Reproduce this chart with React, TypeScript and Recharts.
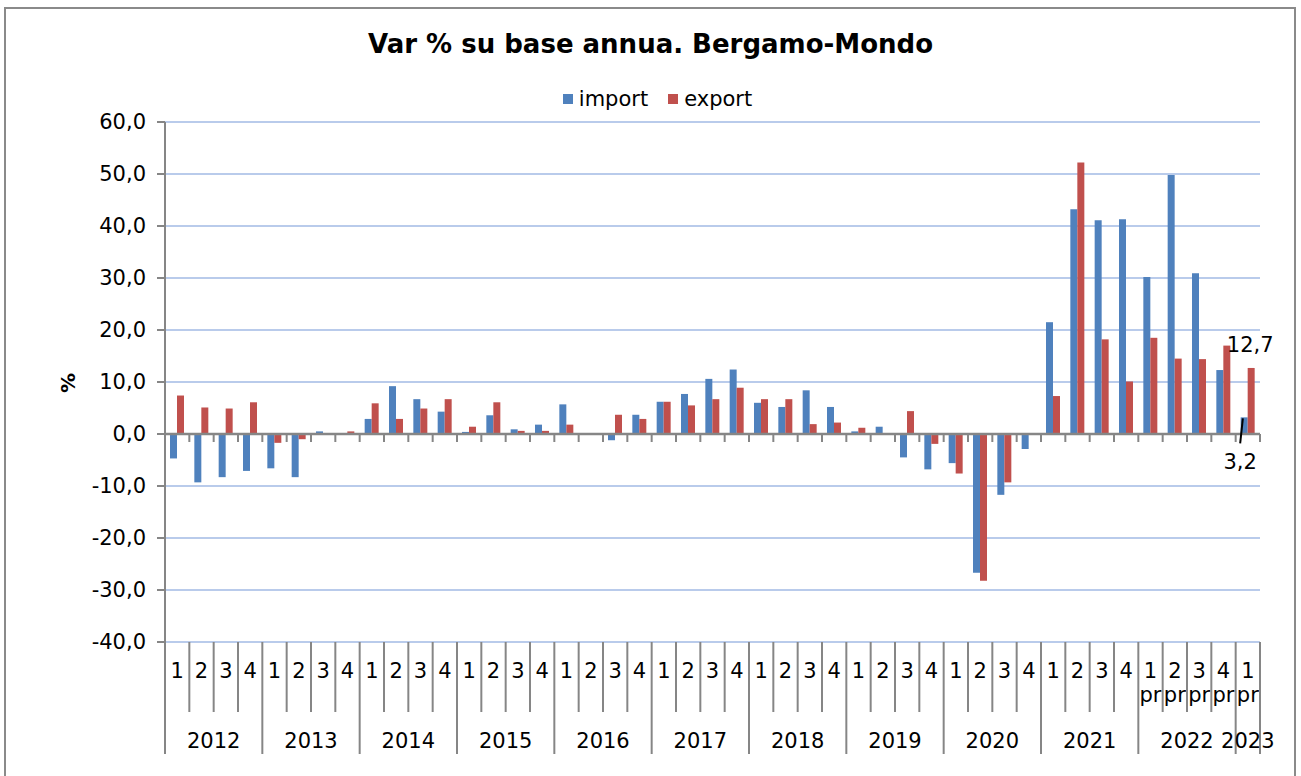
import React from 'react';
import { BarChart, Bar, XAxis, YAxis, CartesianGrid, Legend, ReferenceLine, LabelList } from 'recharts';

const FONT = "'DejaVu Sans', Verdana, sans-serif";

const years = ['2012', '2013', '2014', '2015', '2016', '2017', '2018', '2019', '2020', '2021', '2022', '2023'];
const quartersPerYear = [4, 4, 4, 4, 4, 4, 4, 4, 4, 4, 4, 1];
const provisionalYears = ['2022', '2023'];
const seriesOrder = ['import', 'export'];

const importValues = [
  -4.7, -9.3, -8.3, -7.1,
  -6.6, -8.3, 0.5, 0.0,
  2.9, 9.2, 6.7, 4.3,
  0.4, 3.6, 0.9, 1.8,
  5.7, 0.0, -1.2, 3.7,
  6.2, 7.7, 10.6, 12.4,
  6.0, 5.2, 8.4, 5.2,
  0.5, 1.4, -4.5, -6.8,
  -5.6, -26.7, -11.7, -2.9,
  21.5, 43.2, 41.1, 41.3,
  30.2, 49.8, 30.9, 12.3,
  3.2,
];

const exportValues = [
  7.4, 5.1, 4.9, 6.1,
  -1.7, -1.0, 0.0, 0.5,
  5.9, 2.9, 4.9, 6.7,
  1.4, 6.1, 0.6, 0.6,
  1.8, 0.0, 3.7, 2.9,
  6.2, 5.5, 6.7, 8.9,
  6.7, 6.7, 1.9, 2.2,
  1.2, 0.0, 4.4, -1.9,
  -7.6, -28.2, -9.3, 0.0,
  7.3, 52.2, 18.2, 10.1,
  18.5, 14.5, 14.4, 17.0,
  12.7,
];

const yTicks = [-40, -30, -20, -10, 0, 10, 20, 30, 40, 50, 60];

// build the category table
const data: any[] = [];
years.forEach((yr, yi) => {
  for (let q = 1; q <= quartersPerYear[yi]; q++) {
    const i = data.length;
    data.push({
      key: `${yr}-${q}`,
      year: yr,
      quarter: String(q),
      pr: provisionalYears.includes(yr),
      firstOfYear: q === 1,
      lastOfYear: q === quartersPerYear[yi],
      yearCount: quartersPerYear[yi],
      import: importValues[i],
      export: exportValues[i],
    });
  }
});
const N = data.length;
// only the latest quarter carries data labels
data[N - 1].importLabel = importValues[N - 1];
data[N - 1].exportLabel = exportValues[N - 1];

const W = 1301;
const H = 776;
const M = { top: 122, right: 41, left: 0, bottom: 0 };
const Y_AXIS_W = 165;
const X_AXIS_H = 134;
const PLOT_W = W - M.left - M.right - Y_AXIS_W;

const AXIS_COLOR = '#868686';
const GRID_COLOR = '#b9cbeb';
const BLUE = '#4f81bd';
const RED = '#c0504d';

const fmt = (v: number) => Number(v).toFixed(1).replace('.', ',');

const XTick = (props: any) => {
  const { x, y, payload } = props;
  const i = payload?.index ?? props.index;
  const d = data[i];
  if (!d) return null;
  const half = typeof payload?.offset === 'number' && payload.offset > 3 ? payload.offset : PLOT_W / N / 2;
  const longLen = 112;
  const shortLen = 70;
  return (
    <g>
      <text x={x} y={y + 36} textAnchor="middle" fontFamily={FONT} fontSize={21} fill="#000">{d.quarter}</text>
      {d.pr && (
        <text x={x} y={y + 60} textAnchor="middle" fontFamily={FONT} fontSize={21} fill="#000">pr</text>
      )}
      <line x1={x + half} y1={y} x2={x + half} y2={y + (d.lastOfYear ? longLen : shortLen)} stroke={AXIS_COLOR} strokeWidth={2} />
      {i === 0 && <line x1={x - half} y1={y - 1} x2={x - half} y2={y + longLen} stroke={AXIS_COLOR} strokeWidth={2} />}
      {d.firstOfYear && (
        <text x={x - half + d.yearCount * half} y={y + 105.5} textAnchor="middle" fontFamily={FONT} fontSize={21} fill="#000">{d.year}</text>
      )}
    </g>
  );
};

const ZeroLine = (props: any) => {
  const { x1, y1, x2 } = props;
  if (x1 == null) return null;
  const step = (x2 - x1) / N;
  const ticks = [];
  for (let k = 1; k <= N; k++) {
    const tx = x1 + k * step;
    ticks.push(<line key={k} x1={tx} y1={y1} x2={tx} y2={y1 + 8} stroke={AXIS_COLOR} strokeWidth={2} />);
  }
  return (
    <g>
      <line x1={x1} y1={y1} x2={x2} y2={y1} stroke={AXIS_COLOR} strokeWidth={2.5} />
      {ticks}
    </g>
  );
};

const boxOf = (p: any) => {
  const vb = p.viewBox || {};
  const x = Number(p.x ?? vb.x);
  const y = Number(p.y ?? vb.y);
  const width = Number(p.width ?? vb.width ?? 7);
  const height = Number(p.height ?? vb.height ?? 0);
  return { x, y, width, height };
};

const hasValue = (v: any) => v !== undefined && v !== null && v !== '' && !Number.isNaN(Number(v));

const ImportLabel = (p: any) => {
  if (!hasValue(p.value)) return null;
  const b = boxOf(p);
  const cx = b.x + b.width / 2;
  const top = Math.min(b.y, b.y + b.height);
  return (
    <g>
      <line x1={cx - 1.3} y1={top + 1} x2={cx - 4} y2={top + 26} stroke="#000" strokeWidth={2} />
      <text x={cx - 4} y={top + 52} textAnchor="middle" fontFamily={FONT} fontSize={21} fill="#000">{fmt(p.value)}</text>
    </g>
  );
};

const ExportLabel = (p: any) => {
  if (!hasValue(p.value)) return null;
  const b = boxOf(p);
  const cx = b.x + b.width / 2;
  const top = Math.min(b.y, b.y + b.height);
  return (
    <text x={cx - 1} y={top - 15.5} textAnchor="middle" fontFamily={FONT} fontSize={21} fill="#000">{fmt(p.value)}</text>
  );
};

const renderLegend = (props: any) => {
  const payload = [...(props.payload || [])].sort(
    (a: any, b: any) => seriesOrder.indexOf(a.dataKey) - seriesOrder.indexOf(b.dataKey)
  );
  return (
    <div style={{ display: 'flex', justifyContent: 'center', fontFamily: FONT, fontSize: 21, color: '#000', paddingLeft: 14 }}>
      {payload.map((e: any) => (
        <div key={e.value} style={{ display: 'flex', alignItems: 'center', margin: '0 10px' }}>
          <span style={{ display: 'inline-block', width: 10, height: 10, background: e.color, marginRight: 6 }} />
          <span>{e.value}</span>
        </div>
      ))}
    </div>
  );
};

const YLabel = () => (
  <text x={68} y={383} transform="rotate(-90 68 383)" textAnchor="middle" dominantBaseline="central" fontFamily={FONT} fontSize={20} fontWeight="bold" fill="#000">%</text>
);

export default function App() {
  return (
    <div style={{ position: 'relative', width: W, height: H, overflow: 'hidden', background: '#fff' }}>
      <style>{'body{margin:0;}'}</style>
      <div style={{ position: 'absolute', left: 4, top: 7, width: 1292, height: 800, border: '2px solid #8a8a8a', boxSizing: 'border-box' }} />
      <div style={{ position: 'absolute', left: 0, top: 29, width: W, textAlign: 'center', fontFamily: FONT, fontWeight: 'bold', fontSize: 26, lineHeight: '30px', color: '#000' }}>
        Var % su base annua. Bergamo-Mondo
      </div>
      <div style={{ position: 'absolute', left: 0, top: 0 }}>
        <BarChart width={W} height={H} data={data} margin={M} barSize={7} barGap={0}>
          <CartesianGrid horizontal vertical={false} stroke={GRID_COLOR} strokeWidth={2} />
          <XAxis dataKey="key" interval={0} axisLine={false} tickLine={false} tickSize={0} tickMargin={0} height={X_AXIS_H} tick={<XTick />} />
          <YAxis
            width={Y_AXIS_W}
            domain={[-40, 60]}
            ticks={yTicks}
            interval={0}
            tickFormatter={fmt}
            axisLine={{ stroke: AXIS_COLOR, strokeWidth: 2 }}
            tickLine={{ stroke: AXIS_COLOR, strokeWidth: 2 }}
            tickSize={8}
            tickMargin={11}
            tick={{ fontFamily: FONT, fontSize: 21, fill: '#000' }}
            label={<YLabel />}
          />
          <Legend verticalAlign="middle" align="center" layout="horizontal" wrapperStyle={{ top: 87, left: 0, width: W }} content={renderLegend} />
          <Bar dataKey="import" name="import" fill={BLUE} isAnimationActive={false}>
            <LabelList dataKey="importLabel" content={<ImportLabel />} />
          </Bar>
          <Bar dataKey="export" name="export" fill={RED} isAnimationActive={false}>
            <LabelList dataKey="exportLabel" content={<ExportLabel />} />
          </Bar>
          <ReferenceLine y={0} shape={<ZeroLine />} />
        </BarChart>
      </div>
    </div>
  );
}
